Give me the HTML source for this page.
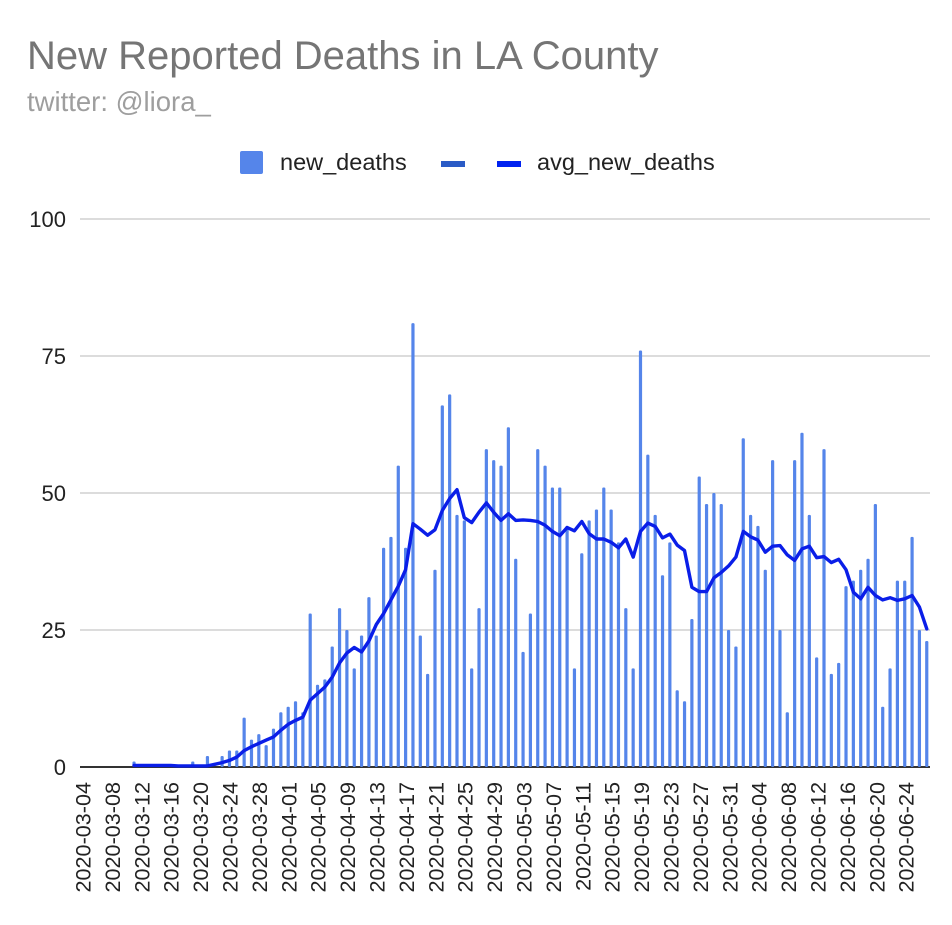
<!DOCTYPE html>
<html><head><meta charset="utf-8"><style>
body{margin:0;background:#fff;}
svg text{font-family:"Liberation Sans",Arial,sans-serif;}
</style></head><body>
<svg id="chart" width="952" height="920" xmlns="http://www.w3.org/2000/svg">
<text x="27" y="69" font-size="40" fill="#757575">New Reported Deaths in LA County</text>
<text x="27" y="111" font-size="27.5" fill="#9e9e9e">twitter: @liora_</text>
<g>
<rect x="240" y="151" width="23" height="23" rx="2" fill="#5585ea"/>
<text x="280" y="170" font-size="23.5" fill="#222">new_deaths</text>
<rect x="441" y="161" width="24" height="6" fill="#2a5bc6"/>
<rect x="497" y="161" width="24" height="6" fill="#0022f0"/>
<text x="537" y="170" font-size="23.5" fill="#222">avg_new_deaths</text>
</g>
<g id="grid"></g><g id="bars"></g><g id="line"></g><g id="xlabels"></g>
</svg>
<script>
const yTicks=[0,25,50,75,100];
const startDay=6;
const newDeaths=[1,0,0,0,0,0,0,0,1,0,2,0,2,3,3,9,5,6,4,7,10,11,12,10,28,15,16,22,29,25,18,24,31,24,40,42,55,40,81,24,17,36,66,68,46,45,18,29,58,56,55,62,38,21,28,58,55,51,51,44,18,39,45,47,51,47,41,29,18,76,57,46,35,41,14,12,27,53,48,50,48,25,22,60,46,44,36,56,25,10,56,61,46,20,58,17,19,33,34,36,38,48,11,18,34,34,42,25,23];
const avgNewDeaths=[0.3,0.3,0.3,0.3,0.3,0.3,0.2,0.2,0.2,0.2,0.2,0.5,0.8,1.2,1.8,3,3.7,4.3,4.9,5.5,6.7,7.8,8.5,9.1,12.2,13.4,14.6,16.4,19,20.8,21.8,21,23,26,28,30.5,33,36,44.4,43.4,42.3,43.3,46.8,49,50.6,45.5,44.6,46.5,48.2,46.5,45,46.2,45,45.1,45,44.8,44.1,43,42.2,43.7,43.1,44.8,42.6,41.6,41.6,41,40,41.6,38.3,43,44.5,43.9,41.8,42.5,40.5,39.5,32.8,32,32,34.5,35.5,36.7,38.3,43,42,41.4,39.2,40.3,40.4,38.7,37.7,39.8,40.3,38.2,38.4,37.3,37.9,36,31.9,30.7,32.8,31.3,30.5,30.9,30.4,30.7,31.3,29.2,25.2];
const xLabels=["2020-03-04","2020-03-08","2020-03-12","2020-03-16","2020-03-20","2020-03-24","2020-03-28","2020-04-01","2020-04-05","2020-04-09","2020-04-13","2020-04-17","2020-04-21","2020-04-25","2020-04-29","2020-05-03","2020-05-07","2020-05-11","2020-05-15","2020-05-19","2020-05-23","2020-05-27","2020-05-31","2020-06-04","2020-06-08","2020-06-12","2020-06-16","2020-06-20","2020-06-24"];
const NS="http://www.w3.org/2000/svg";
function xs(d){return 90+7.34*d;}
function ys(v){return 767-5.48*v;}
function mk(t,a,p){const e=document.createElementNS(NS,t);for(const k in a)e.setAttribute(k,a[k]);p.appendChild(e);return e;}
const grid=document.getElementById('grid');
yTicks.forEach(v=>{
  const l=mk('line',{x1:80,x2:930,y1:ys(v),y2:ys(v),stroke:v===0?'#333':'#c8c8c8','stroke-width':v===0?2:1.3},grid);
  
  
  const t=mk('text',{x:66,y:ys(v)+8,'font-size':22,'text-anchor':'end',fill:'#222'},grid);
  t.textContent=v;
  
  
});
const bars=document.getElementById('bars');
newDeaths.forEach((v,i)=>{
  if(v<=0)return;
  const d=startDay+i;
  const h=Math.max(5.48*v,2);
  const r=mk('rect',{x:xs(d)-1.6,y:767-h,width:3.2,height:h,rx:1.2,fill:'#5585ea'},bars);
  
  
});
const pts=avgNewDeaths.map((v,i)=>xs(startDay+i).toFixed(1)+','+ys(v).toFixed(1)).join(' ');
const pl=mk('polyline',{points:pts,fill:'none',stroke:'#0a1ee8','stroke-width':3.4,'stroke-linejoin':'round','stroke-linecap':'round'},document.getElementById('line'));


const xl=document.getElementById('xlabels');
xLabels.forEach((s,i)=>{
  const x=83+7.35*4*i+7.5;
  const t=mk('text',{x:0,y:0,'font-size':21.6,'text-anchor':'end',fill:'#222',transform:'translate('+x+',782) rotate(-90)'},xl);
  t.textContent=s;
  
  
});
</script>
</body></html>
